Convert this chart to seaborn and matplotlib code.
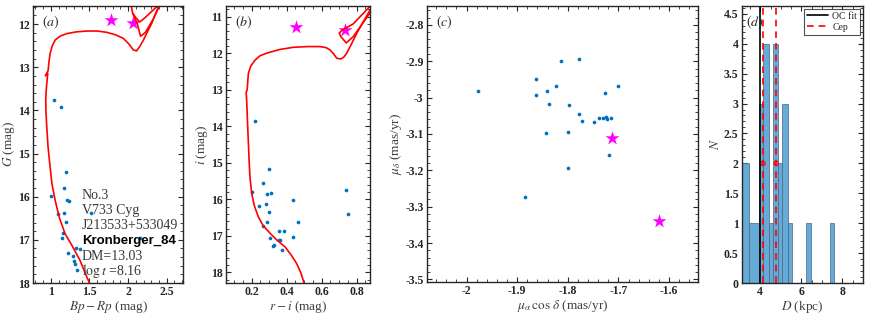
import numpy as np
import pandas as pd
import seaborn as sns
import matplotlib
matplotlib.use("Agg")
import matplotlib.pyplot as plt
from matplotlib.ticker import AutoMinorLocator, MultipleLocator
from matplotlib.lines import Line2D

# ---------------- data ----------------
# Panel (a): Gaia CMD members
a_bprp = [1.047, 1.129, 1.203, 1.168, 1.008, 1.207, 1.237, 1.168, 1.099, 1.525, 1.198,
          1.163, 1.147, 2.159, 1.331, 1.383, 1.228, 1.288, 1.301, 1.310, 1.336]
a_g = [13.755, 13.93, 15.42, 15.79, 15.98, 16.07, 16.10, 16.37, 16.41, 16.38, 16.59,
       16.84, 16.95, 16.95, 17.19, 17.21, 17.31, 17.38, 17.48, 17.55, 17.69]
a_star_bprp = [1.78, 2.06]
a_star_g = [11.91, 11.97]
# isochrone (a)
iso_a1_x = [1.50, 1.44, 1.379, 1.28, 1.185, 1.11, 1.056, 1.015, 0.991, 0.965, 0.948, 0.938,
            0.935, 0.940, 0.948, 0.961, 0.93, 0.965, 0.975, 0.991, 1.02, 1.056, 1.12, 1.207,
            1.33, 1.465, 1.60, 1.724, 1.84, 1.939, 2.01, 2.068, 2.11, 2.15, 2.198, 2.25,
            2.306, 2.392]
iso_a1_y = [18.0, 17.75, 17.48, 17.15, 16.86, 16.48, 16.08, 15.70, 15.31, 14.85, 14.38, 14.05,
            13.76, 13.55, 13.38, 13.14, 13.2, 13.08, 12.90, 12.68, 12.50, 12.37, 12.28, 12.22,
            12.18, 12.16, 12.16, 12.19, 12.25, 12.33, 12.46, 12.60, 12.62, 12.52, 12.37, 12.18,
            11.98, 11.60]
iso_a2_x = [2.04, 2.06, 2.10, 2.15, 2.22, 2.32, 2.38]
iso_a2_y = [11.58, 11.75, 11.85, 11.95, 11.85, 11.68, 11.58]
iso_a3_x = [2.06, 2.12, 2.16, 2.22, 2.32, 2.40]
iso_a3_y = [11.75, 12.0, 12.28, 12.2, 11.9, 11.6]

# Panel (b): r-i CMD
b_ri = [0.219, 0.299, 0.265, 0.200, 0.286, 0.312, 0.434, 0.240, 0.282, 0.297, 0.287, 0.463,
        0.266, 0.358, 0.385, 0.306, 0.436, 0.354, 0.362, 0.326, 0.322, 0.371, 0.737, 0.750]
b_i = [13.85, 15.16, 15.56, 15.81, 15.85, 15.82, 16.03, 16.19, 16.13, 16.35, 16.61, 16.62,
       16.73, 16.88, 16.87, 17.06, 17.04, 17.10, 17.11, 17.25, 17.27, 17.40, 15.75, 16.41]
b_star_ri = [0.454, 0.733]
b_star_i = [11.29, 11.36]
iso_b1_x = [0.499, 0.480, 0.457, 0.425, 0.390, 0.345, 0.305, 0.265, 0.238, 0.215, 0.200,
            0.190, 0.185, 0.177, 0.171, 0.168, 0.174, 0.177, 0.181, 0.195, 0.219, 0.248,
            0.286, 0.36, 0.438, 0.52, 0.590, 0.625, 0.647, 0.668, 0.686, 0.71, 0.728, 0.743,
            0.77, 0.80, 0.876]
iso_b1_y = [18.29, 18.0, 17.76, 17.52, 17.30, 17.12, 16.93, 16.72, 16.48, 16.18, 15.84,
            15.40, 14.93, 14.01, 13.28, 13.08, 13.0, 12.80, 12.55, 12.35, 12.19, 12.07,
            12.00, 11.90, 11.84, 11.82, 11.82, 11.85, 11.91, 12.02, 12.14, 12.16, 12.10, 12.00,
            11.75, 11.46, 10.82]
iso_b2_x = [0.876, 0.78, 0.72, 0.70, 0.71, 0.74, 0.78, 0.876]
iso_b2_y = [10.72, 11.2, 11.36, 11.45, 11.55, 11.72, 11.55, 10.90]

# Panel (c): proper motions
c_pmra = [-1.977, -1.884, -1.862, -1.862, -1.841, -1.838, -1.843, -1.824, -1.814, -1.778,
          -1.797, -1.799, -1.800, -1.777, -1.772, -1.749, -1.738, -1.730, -1.725, -1.723,
          -1.726, -1.715, -1.700, -1.719]
c_pmdec = [-2.981, -3.274, -2.950, -2.992, -2.983, -3.017, -3.098, -2.969, -2.900, -2.895,
           -3.019, -3.094, -3.193, -3.044, -3.065, -3.068, -3.055, -3.057, -3.054, -3.060,
           -2.986, -3.055, -2.969, -3.157]
c_star_pmra = [-1.712, -1.620]
c_star_pmdec = [-3.112, -3.339]

# Panel (d): distance histogram
d_edges = [3.11, 3.43, 3.92, 4.13, 4.40, 4.62, 4.84, 5.05, 5.33, 5.54, 6.23, 6.46, 7.37, 7.60]
d_counts = [2, 1, 3, 4, 1, 4, 2, 3, 1, 0, 1, 0, 1]
d_ocfit = 3.97
d_cep = [4.13, 4.78]
d_cep_y = [2, 2]

text_lines = ["No.3", "V733 Cyg", "J213533+533049", "Kronberger_84", "DM=13.03", r"$\log t$ =8.16"]

# ---------------- style ----------------
sns.set_theme(style="ticks")
plt.rcParams["font.family"] = ["Liberation Serif", "DejaVu Serif"]
plt.rcParams["font.weight"] = "bold"
plt.rcParams["mathtext.fontset"] = "custom"
plt.rcParams["mathtext.rm"] = "STIXGeneral:weight=normal"
plt.rcParams["mathtext.it"] = "STIXGeneral:style=italic:weight=normal"
plt.rcParams["mathtext.bf"] = "STIXGeneral:weight=bold"
plt.rcParams["mathtext.sf"] = "STIXGeneral:weight=normal"
plt.rcParams["mathtext.tt"] = "STIXGeneral:weight=normal"
plt.rcParams["mathtext.cal"] = "STIXGeneral:style=italic:weight=normal"
plt.rcParams["axes.unicode_minus"] = False
plt.rcParams["axes.edgecolor"] = "#262626"
plt.rcParams["axes.linewidth"] = 1.0

BLUE = "#0072BD"
MAG = "#FF00FF"
RED = "#FF0000"
LABC = "#404040"

W, H = 872, 317
fig = plt.figure(figsize=(W / 100, H / 100), dpi=100)

def add_ax(l, r, t, b):
    return fig.add_axes([l / W, 1 - b / H, (r - l) / W, (b - t) / H])

axa = add_ax(33, 183, 6, 283)
axb = add_ax(226, 370, 6, 283)
axc = add_ax(427, 698, 6, 282)
axd = add_ax(742, 863, 6, 283)

def style(ax):
    ax.tick_params(which="both", direction="in", top=True, right=True, colors="#262626",
                   labelcolor="#262626")
    ax.tick_params(which="major", length=3.5, width=0.8, labelsize=8.5, pad=2.5)
    ax.tick_params(which="minor", length=2, width=0.6)
    ax.xaxis.set_minor_locator(AutoMinorLocator())
    ax.yaxis.set_minor_locator(AutoMinorLocator())
    for s in ax.spines.values():
        s.set_visible(True)

LKW = dict(fontsize=9.5, color=LABC, fontweight="normal")

def iso(ax, xs, ys):
    sns.lineplot(x=xs, y=ys, ax=ax, sort=False, estimator=None, color=RED, lw=1.2)

# ---- (a)
for xs, ys in [(iso_a1_x, iso_a1_y), (iso_a2_x, iso_a2_y), (iso_a3_x, iso_a3_y)]:
    iso(axa, xs, ys)
sns.scatterplot(x=a_bprp, y=a_g, ax=axa, color=BLUE, s=7, linewidth=0)
sns.scatterplot(x=a_star_bprp, y=a_star_g, ax=axa, color=MAG, marker="*", s=110, linewidth=0)
axa.set_xlim(0.77, 2.71)
axa.set_ylim(18, 11.58)
axa.yaxis.set_major_locator(MultipleLocator(1))
axa.set_xticks([1, 1.5, 2, 2.5])
axa.set_xticklabels(["1", "1.5", "2", "2.5"])
axa.set_xlabel(r"$Bp-Rp$ (mag)", labelpad=0.5, **LKW)
axa.set_ylabel(r"$G$ (mag)", labelpad=0.5, **LKW)
axa.text(0.06, 0.94, r"$(a)$", transform=axa.transAxes, fontsize=10, va="center",
         color="#262626", fontweight="normal")
ys0 = 0.315
for k, t in enumerate(text_lines):
    kw = dict(transform=axa.transAxes, fontsize=10, va="center", ha="left", color="#383838",
              fontweight="normal")
    if t.startswith("Kronberger"):
        kw.update(family="Liberation Sans", fontweight="bold", color="black", fontsize=9.5)
    axa.text(0.325, ys0 - k * 0.0545, t, **kw)

# ---- (b)
for xs, ys in [(iso_b1_x, iso_b1_y), (iso_b2_x, iso_b2_y)]:
    iso(axb, xs, ys)
sns.scatterplot(x=b_ri, y=b_i, ax=axb, color=BLUE, s=7, linewidth=0)
sns.scatterplot(x=b_star_ri, y=b_star_i, ax=axb, color=MAG, marker="*", s=110, linewidth=0)
axb.set_xlim(0.053, 0.876)
axb.set_ylim(18.29, 10.71)
axb.set_xticks([0.2, 0.4, 0.6, 0.8])
axb.set_xticklabels(["0.2", "0.4", "0.6", "0.8"])
axb.yaxis.set_major_locator(MultipleLocator(1))
axb.set_xlabel(r"$r-i$ (mag)", labelpad=0.5, **LKW)
axb.set_ylabel(r"$i$ (mag)", labelpad=0.5, **LKW)
axb.text(0.06, 0.94, r"$(b)$", transform=axb.transAxes, fontsize=10, va="center",
         color="#262626", fontweight="normal")

# ---- (c)
sns.scatterplot(x=c_pmra, y=c_pmdec, ax=axc, color=BLUE, s=7, linewidth=0)
sns.scatterplot(x=c_star_pmra, y=c_star_pmdec, ax=axc, color=MAG, marker="*", s=110, linewidth=0)
axc.set_xlim(-2.078, -1.543)
axc.set_ylim(-3.507, -2.748)
axc.set_xticks([-2, -1.9, -1.8, -1.7, -1.6])
axc.set_xticklabels(["-2", "-1.9", "-1.8", "-1.7", "-1.6"])
axc.set_yticks([-3.5, -3.4, -3.3, -3.2, -3.1, -3, -2.9, -2.8])
axc.set_yticklabels(["-3.5", "-3.4", "-3.3", "-3.2", "-3.1", "-3", "-2.9", "-2.8"])
axc.set_xlabel(r"$\mu_\alpha\,\cos\,\delta$ (mas/yr)", labelpad=0.5, **LKW)
axc.set_ylabel(r"$\mu_\delta$ (mas/yr)", labelpad=1, **LKW)
axc.text(0.035, 0.94, r"$(c)$", transform=axc.transAxes, fontsize=10, va="center",
         color="#262626", fontweight="normal")

# ---- (d)
centers = [(d_edges[i] + d_edges[i + 1]) / 2 for i in range(len(d_counts))]
sns.histplot(x=centers, weights=d_counts, bins=d_edges, ax=axd, color="#66AAD7", alpha=1.0,
             edgecolor="#4A6580", linewidth=0.5)
axd.axvline(d_ocfit, color="black", lw=1.2)
for xv in d_cep:
    axd.axvline(xv, color=RED, lw=1.2, ls=(0, (4, 3)))
sns.scatterplot(x=d_cep, y=d_cep_y, ax=axd, marker="o", s=10, facecolor="none",
                edgecolor=RED, linewidth=0.8)
axd.set_xlim(3.11, 9.0)
axd.set_ylim(0, 4.63)
axd.set_xticks([4, 6, 8])
axd.set_yticks([0, 0.5, 1, 1.5, 2, 2.5, 3, 3.5, 4, 4.5])
axd.set_yticklabels(["0", "0.5", "1", "1.5", "2", "2.5", "3", "3.5", "4", "4.5"])
axd.set_xlabel(r"$D$ (kpc)", labelpad=0.5, **LKW)
axd.set_ylabel(r"$N$", labelpad=1, **LKW)
axd.text(0.03, 0.94, r"$(d)$", transform=axd.transAxes, fontsize=10, va="center",
         color="#262626", fontweight="normal")
handles = [Line2D([], [], color="black", lw=1.2), Line2D([], [], color=RED, lw=1.2, ls=(0, (4, 3)))]
leg = axd.legend(handles, ["OC fit", "Cep"], loc="upper right", frameon=True,
                 prop={"family": "Liberation Serif", "size": 7, "weight": "normal"},
                 fancybox=False, borderpad=0.3, handlelength=2.2, handletextpad=0.4,
                 labelspacing=0.2, borderaxespad=0.3)
leg.get_frame().set_edgecolor("#262626")
leg.get_frame().set_linewidth(0.8)

for ax in (axa, axb, axc, axd):
    style(ax)

fig.savefig("out.png", dpi=100)
